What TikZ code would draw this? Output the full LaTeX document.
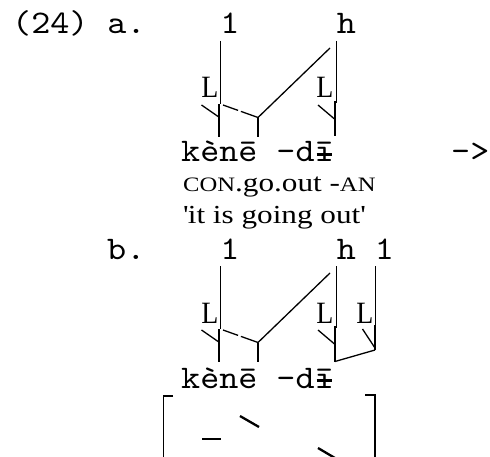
\documentclass[tikz,border=0pt]{standalone}
\usepackage{fontspec}
\newfontfamily\tw{lmmono10-regular}[Extension=.otf, FakeStretch=1.1]
\newfontfamily\gl{Liberation Serif}[FakeStretch=1.2]
\newfontfamily\lf{Liberation Serif}[FakeStretch=0.9]
\newcommand\barI{\ooalign{ī\cr\hidewidth\rule[0.19em]{0.45em}{0.07em}\hidewidth\cr}}
\newcommand\smc[1]{{\fontsize{20.5}{21}\selectfont #1}}
\tikzset{
  twt/.style={font={\tw\fontsize{33}{36}\selectfont}, inner sep=0pt, anchor=base},
  glt/.style={font={\gl\fontsize{26}{28}\selectfont}, inner sep=0pt, anchor=base west},
  lt/.style={font={\lf\fontsize{31}{32}\selectfont}, inner sep=0pt, anchor=base east},
  assoc/.style={line width=1.3pt},
  brk/.style={line width=1.8pt},
  tone/.style={line width=2.3pt}
}
\begin{document}
\begin{tikzpicture}[x=1pt,y=-1pt]
\useasboundingbox (0,0) rectangle (490,457);
\clip (0,0) rectangle (490,457);
% ---------- row a ----------
\node[twt, anchor=base west] (lab) at (12,34) {(24) a.};
\node[twt] (a1) at (230,34) {1};
\node[twt] (ah) at (346.5,34) {h};
\node[lt] (aL1) at (218.5,98) {L};
\node[lt] (aL2) at (333.5,98) {L};
\node[twt, anchor=base west] (aw) at (181,162) {kènē -d\barI};
\node[twt, anchor=base west] (arr) at (451,162) {->};
\node[glt] (ag) at (183,192) {\smc{CON}.go.out -\smc{AN}};
\node[glt] (at) at (183,224) {\textquotesingle it is going out\textquotesingle};
\coordinate (a1t) at (220.5,41);  \coordinate (a1b) at (220.5,104);
\coordinate (aYl) at (201.5,105); \coordinate (aYm) at (218.8,117);
\coordinate (aYt) at (219,104);   \coordinate (aYb) at (219,137);
\coordinate (aDs) at (223,105);   \coordinate (aJ) at (258,117.5);
\coordinate (aJb) at (258,137);   \coordinate (aDt) at (330,48);
\coordinate (aht) at (336.5,41);  \coordinate (ahb) at (336.5,103);
\coordinate (ahYl) at (318,105);  \coordinate (ahYm) at (334.5,119);
\coordinate (ahLt) at (335,101);  \coordinate (ahLb) at (335,136);
\draw[assoc] (a1t) -- (a1b);
\draw[assoc] (aYl) -- (aYm);
\draw[assoc] (aYt) -- (aYb);
\draw[assoc, dash pattern=on 16pt off 3pt on 40pt] (aDs) -- (aJ);
\draw[assoc] (aJ) -- (aJb);
\draw[assoc] (aJ) -- (aDt);
\draw[assoc] (aht) -- (ahb);
\draw[assoc] (ahYl) -- (ahYm);
\draw[assoc] (ahLt) -- (ahLb);
% ---------- row b ----------
\node[twt, anchor=base west] (lbb) at (107,259) {b.};
\node[twt] (b1) at (230,259) {1};
\node[twt] (bh) at (346.5,259) {h};
\node[twt] (bl) at (384.5,259) {1};
\node[lt] (bL1) at (218.5,323) {L};
\node[lt] (bL2) at (333.5,323) {L};
\node[lt] (bL3) at (373.5,323) {L};
\node[twt, anchor=base west] (bw) at (181,388) {kènē -d\barI};
\coordinate (b1t) at (220.5,266);  \coordinate (b1b) at (220.5,329);
\coordinate (bYl) at (201.5,330);  \coordinate (bYm) at (218.8,342);
\coordinate (bYt) at (219,329);    \coordinate (bYb) at (219,362);
\coordinate (bDs) at (223,330);    \coordinate (bJ) at (258,342.5);
\coordinate (bJb) at (258,362);    \coordinate (bDt) at (330,273);
\coordinate (bht) at (336.5,266);  \coordinate (bhb) at (336.5,328);
\coordinate (bhYl) at (318,330);   \coordinate (bhYm) at (334.5,344);
\coordinate (bhLt) at (335,326);   \coordinate (bhLb) at (335,361.5);
\coordinate (blt) at (375.5,266);  \coordinate (blb) at (375.5,327);
\coordinate (blYl) at (362.5,329); \coordinate (blYm) at (375,348);
\coordinate (blLt) at (375,325);   \coordinate (blLb) at (375,350);
\draw[assoc] (b1t) -- (b1b);
\draw[assoc] (bYl) -- (bYm);
\draw[assoc] (bYt) -- (bYb);
\draw[assoc, dash pattern=on 16pt off 3pt on 40pt] (bDs) -- (bJ);
\draw[assoc] (bJ) -- (bJb);
\draw[assoc] (bJ) -- (bDt);
\draw[assoc] (bht) -- (bhb);
\draw[assoc] (bhYl) -- (bhYm);
\draw[assoc] (bhLt) -- (bhLb);
\draw[assoc] (blt) -- (blb);
\draw[assoc] (blYl) -- (blYm);
\draw[assoc] (blLt) -- (blLb);
\draw[assoc] (bhLb) -- (blLb);
% ---------- bracket ----------
\coordinate (lbt) at (173,396);  \coordinate (lbc) at (163.5,396); \coordinate (lbe) at (163.5,470);
\coordinate (rbt) at (365,395);  \coordinate (rbc) at (375,395);   \coordinate (rbe) at (375,470);
\draw[brk] (lbt) -- (lbc) -- (lbe);
\draw[brk] (rbt) -- (rbc) -- (rbe);
\coordinate (t1a) at (202,439); \coordinate (t1b) at (221,439);
\coordinate (t2a) at (240,416); \coordinate (t2b) at (259,427);
\coordinate (t3a) at (318,448); \coordinate (t3b) at (340,461);
\draw[tone] (t1a) -- (t1b);
\draw[tone] (t2a) -- (t2b);
\draw[tone] (t3a) -- (t3b);
\end{tikzpicture}
\end{document}
